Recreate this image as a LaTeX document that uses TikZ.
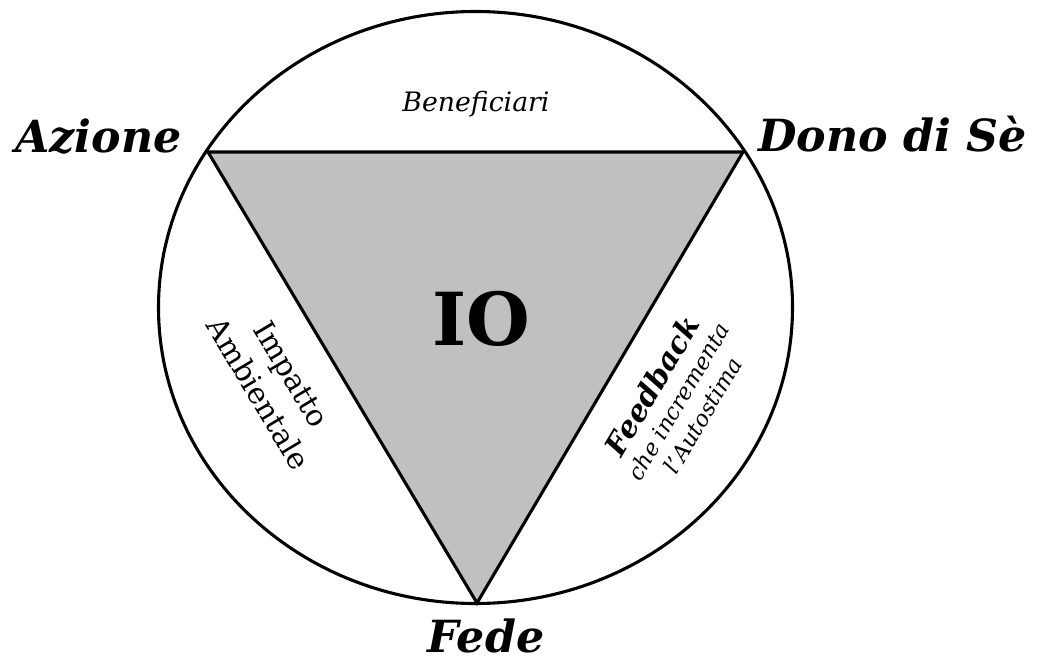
\documentclass[tikz,border=0pt]{standalone}
\usepackage{fontspec}
\setmainfont{DejaVu Serif}
\usetikzlibrary{positioning}
\definecolor{iogray}{RGB}{192,192,192}

\begin{document}
\begin{tikzpicture}[x=0.025cm, y=-0.025cm, line width=2.2pt,
                    vertice/.style={inner sep=0pt, font=\fontsize{31.5}{34}\selectfont\bfseries\itshape},
                    lato/.style={inner sep=0pt, align=center}]

    \useasboundingbox (0,0) rectangle (1037,662);

    % cerchio esterno
    \coordinate (centro) at (475.5,307.5);
    \draw (centro) ellipse [x radius=317, y radius=296];

    % triangolo IO
    \coordinate (az) at (208,152);
    \coordinate (dono) at (743,152);
    \coordinate (fede) at (477,603);
    \filldraw[fill=iogray] (az) -- (dono) -- (fede) -- cycle;
    \node[inner sep=0pt, anchor=base, font=\fontsize{52}{56}\selectfont\bfseries] (io) at (481,345) {IO};

    % vertici
    \node[vertice, anchor=base east] (azione) at (183,153) {Azione};
    \node[vertice, anchor=base west] (donodise) at (757,152) {Dono di Sè};
    \node[vertice, anchor=base] (fedetxt) at (486,652) {Fede};

    % lati
    \node[lato, anchor=base, font=\fontsize{19}{22}\selectfont\itshape] (benef) at (476,112) {Beneficiari};
    \node[lato, rotate=-59.2, font=\fontsize{21}{27}\selectfont] (impatto) at (275,384) {Impatto\\Ambientale};
    \node[lato, rotate=59.5, font=\fontsize{16}{20}\selectfont\itshape] (feedback) at (676,400)
        {{\fontsize{21}{23}\selectfont\bfseries Feedback}\\che incrementa\\l'Autostima};

\end{tikzpicture}
\end{document}
